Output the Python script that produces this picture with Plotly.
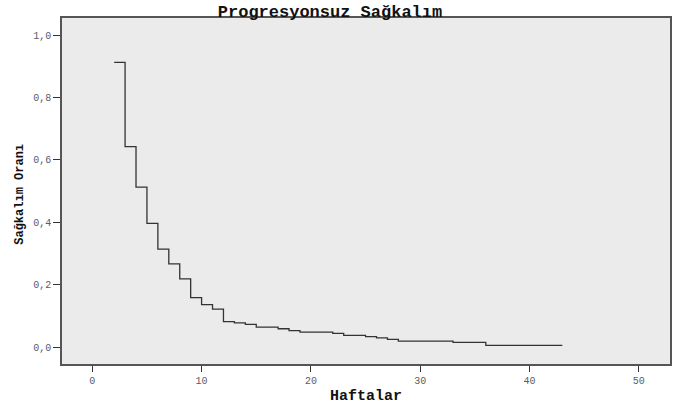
import plotly.graph_objects as go

# Kaplan-Meier style step data (weeks, survival proportion)
weeks = [2, 3, 4, 5, 6, 7, 8, 9, 10, 11, 12, 13, 14, 15, 17, 18, 19, 22, 23, 25, 26, 27, 28, 33, 36, 43]
survival = [0.913, 0.643, 0.513, 0.397, 0.314, 0.267, 0.219, 0.159, 0.136, 0.122, 0.082, 0.078,
            0.073, 0.064, 0.059, 0.053, 0.048, 0.044, 0.038, 0.034, 0.030, 0.025, 0.019, 0.015,
            0.006, 0.006]

x_tick_vals = [0, 10, 20, 30, 40, 50]
x_tick_text = ["0", "10", "20", "30", "40", "50"]
y_tick_vals = [0.0, 0.2, 0.4, 0.6, 0.8, 1.0]
y_tick_text = ["0,0", "0,2", "0,4", "0,6", "0,8", "1,0"]

title_text = "Progresyonsuz Sağkalım"
x_title = "Haftalar"
y_title = "Sağkalım Oranı"

W, H = 679, 406
ML, MR, MT, MB = 62, 9, 18, 42

fig = go.Figure()
fig.add_trace(go.Scatter(
    x=weeks, y=survival, mode="lines", line_shape="hv",
    line=dict(color="#333333", width=1.3), showlegend=False, hoverinfo="x+y"))

mono = "Liberation Mono, Courier New, monospace"
tick_font = dict(family=mono, size=10, color="#5c5a66")

fig.update_layout(
    width=W, height=H,
    margin=dict(l=ML, r=MR, t=MT, b=MB, autoexpand=False),
    paper_bgcolor="white",
    plot_bgcolor="#EBEBEB",
    title=dict(text="<b>" + title_text + "</b>", x=330 / W, xref="container", xanchor="center",
               y=1 - 11 / H, yref="container", yanchor="middle", automargin=False,
               font=dict(family=mono, size=17, color="#111111")),
    xaxis=dict(range=[-2.77, 52.85], tickvals=x_tick_vals, ticktext=x_tick_text,
               showgrid=False, zeroline=False, showline=True, mirror=True, automargin=False,
               linecolor="#555555", linewidth=1.6, ticks="outside", ticklen=6,
               tickcolor="#333333", tickwidth=1.3, tickfont=tick_font),
    yaxis=dict(range=[-0.054, 1.055], tickvals=y_tick_vals, ticktext=y_tick_text,
               showgrid=False, zeroline=False, showline=True, mirror=True, automargin=False,
               linecolor="#555555", linewidth=1.6, ticks="outside", ticklen=7,
               tickcolor="#333333", tickwidth=1.3, tickfont=tick_font),
    annotations=[
        dict(text="<b>" + x_title + "</b>", xref="paper", yref="paper",
             x=0.5, y=(364.5 - 397) / 346.5, xanchor="center", yanchor="middle",
             showarrow=False, font=dict(family=mono, size=15, color="#111111")),
        dict(text="<b>" + y_title + "</b>", xref="paper", yref="paper",
             x=(20 - 62) / 608, y=(364.5 - 194) / 346.5, xanchor="center", yanchor="middle",
             textangle=-90, showarrow=False, font=dict(family=mono, size=12, color="#111111")),
    ],
)

fig.write_html("out.html", config={"displayModeBar": False},
               post_script="document.body.style.margin='0';document.body.style.overflow='hidden';")
